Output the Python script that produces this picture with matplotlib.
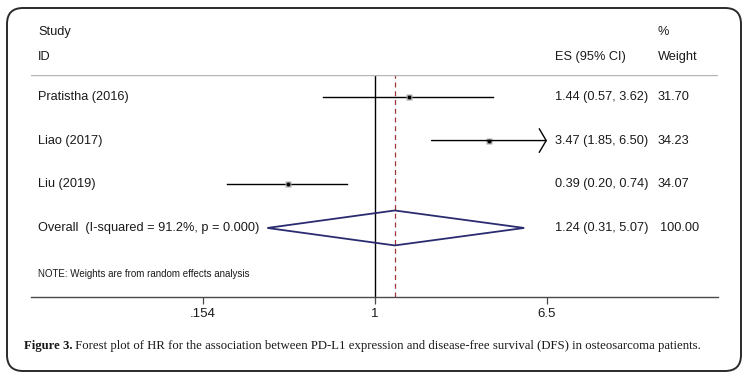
import numpy as np
import matplotlib
matplotlib.use("Agg")
import matplotlib.pyplot as plt
import matplotlib.transforms as mtransforms
from matplotlib.patches import FancyBboxPatch

# data
studies = ["Pratistha (2016)", "Liao (2017)", "Liu (2019)"]
es = [1.44, 3.47, 0.39]
ci_lo = [0.57, 1.85, 0.20]
ci_hi = [3.62, 6.50, 0.74]
weights = [31.70, 34.23, 34.07]

overall_label = "Overall  (I-squared = 91.2%, p = 0.000)"
overall_es = 1.24
overall_lo = 0.31
overall_hi = 5.07
overall_weight = 100.00

xticks = [0.154, 1, 6.5]
xtick_labels = [".154", "1", "6.5"]
note = "NOTE: Weights are from random effects analysis"
caption_bold = "Figure 3."
caption = (" Forest plot of HR for the association between PD-L1 expression and "
           "disease-free survival (DFS) in osteosarcoma patients.")

plt.rcParams["font.family"] = ["Liberation Sans", "DejaVu Sans"]
txt = "#1a1a1a"
navy = "#2b2b70"

fig = plt.figure(figsize=(7.51, 3.80), dpi=100)

# background axes in pixel units for border and caption
bg = fig.add_axes([0, 0, 1, 1])
bg.set_xlim(0, 751)
bg.set_ylim(380, 0)
bg.axis("off")
bg.add_patch(FancyBboxPatch((7, 8), 734, 363, boxstyle="round,pad=0,rounding_size=16",
                            fc="white", ec="#2a2a2a", lw=1.4))

# caption: fit its width to the reference (x 24 .. 703)
cap_fs = 10.0
cap_font = "Liberation Serif"
t1 = bg.text(24, 346, caption_bold, fontsize=cap_fs, fontweight="bold",
             family=cap_font, color=txt, va="center", ha="left")
t2 = bg.text(24, 346, caption, fontsize=cap_fs, family=cap_font,
             color=txt, va="center", ha="left")
fig.canvas.draw()
r = fig.canvas.get_renderer()
total = t1.get_window_extent(r).width + t2.get_window_extent(r).width
cap_fs *= 679 / total
t1.set_fontsize(cap_fs)
t2.set_fontsize(cap_fs)
fig.canvas.draw()
t2.set_x(24 + t1.get_window_extent(r).width)

# main forest axes
ax = fig.add_axes([31 / 751, (380 - 297) / 380, 687 / 751, 222 / 380])
ax.set_xscale("log")
span = np.log(6.5) / 172.0  # log units per pixel
ax.set_xlim(np.exp(-344 * span), np.exp(343 * span))
ax.set_ylim(-0.58, 4.5)
ax.patch.set_alpha(0)

x_min, x_max = xticks[0], xticks[-1]
n = len(studies)
ys = [n + 1 - i for i in range(n)]  # 4, 3, 2
y_overall = 1

ax.axvline(1, color="black", lw=1)
ax.axvline(overall_es, color="#a03535", lw=0.9, ls=(0, (4, 3)))
ax.axhline(4.5, color="#b5b5b5", lw=1)

for y, e, lo, hi, w in zip(ys, es, ci_lo, ci_hi, weights):
    ax.plot(e, y, marker="s", ms=np.sqrt(w) * 0.68, color="#a9a9a9", mec="none", zorder=3)
    ax.plot(e, y, marker="o", ms=1.8, color="black", zorder=4)
    if hi >= x_max:
        ax.annotate("", xy=(x_max, y), xytext=(lo, y),
                    arrowprops=dict(arrowstyle="->,head_length=0.5,head_width=0.85",
                                    lw=1, color="black", shrinkA=0, shrinkB=0,
                                    mutation_scale=10))
    else:
        ax.plot([max(lo, x_min), hi], [y, y], color="black", lw=1, zorder=2)

h = 0.4
ax.fill([overall_lo, overall_es, overall_hi, overall_es],
        [y_overall, y_overall + h, y_overall, y_overall - h],
        fc="none", ec=navy, lw=1.3, zorder=3)

tr = mtransforms.blended_transform_factory(ax.transAxes, ax.transData)
x_lab, x_es, x_w = 7 / 687, 524 / 687, 627 / 687
fs = 9.2
for y, s, e, lo, hi, w in zip(ys, studies, es, ci_lo, ci_hi, weights):
    ax.text(x_lab, y, s, transform=tr, fontsize=fs, color=txt, va="center")
    ax.text(x_es, y, f"{e:.2f} ({lo:.2f}, {hi:.2f})", transform=tr,
            fontsize=fs, color=txt, va="center")
    ax.text(x_w, y, f"{w:.2f}", transform=tr, fontsize=fs, color=txt, va="center")
ax.text(x_lab, y_overall, overall_label, transform=tr, fontsize=fs, color=txt, va="center")
ax.text(x_es, y_overall, f"{overall_es:.2f} ({overall_lo:.2f}, {overall_hi:.2f})",
        transform=tr, fontsize=fs, color=txt, va="center")
ax.text(x_w + 2 / 687, y_overall, f"{overall_weight:.2f}", transform=tr,
        fontsize=fs, color=txt, va="center")
ax.text(x_lab, -0.05, note, transform=tr, fontsize=7, color=txt, va="center")

# headers
ax.text(x_lab, 5.49, "Study", transform=tr, fontsize=fs, color=txt, va="center")
ax.text(x_lab, 4.92, "ID", transform=tr, fontsize=fs, color=txt, va="center")
ax.text(x_es, 4.92, "ES (95% CI)", transform=tr, fontsize=fs, color=txt, va="center")
ax.text(x_w, 5.49, "%", transform=tr, fontsize=fs, color=txt, va="center")
ax.text(x_w, 4.92, "Weight", transform=tr, fontsize=fs, color=txt, va="center")

for side in ["top", "left", "right"]:
    ax.spines[side].set_visible(False)
ax.spines["bottom"].set_color("#4a4a4a")
ax.spines["bottom"].set_linewidth(1)
ax.set_xticks(xticks)
ax.set_xticklabels(xtick_labels)
ax.xaxis.set_minor_locator(matplotlib.ticker.NullLocator())
ax.tick_params(axis="x", length=5, width=0.9, color="#4a4a4a", labelsize=9.5,
               labelcolor=txt, pad=3)
ax.set_yticks([])

fig.savefig("out.png", dpi=100)
